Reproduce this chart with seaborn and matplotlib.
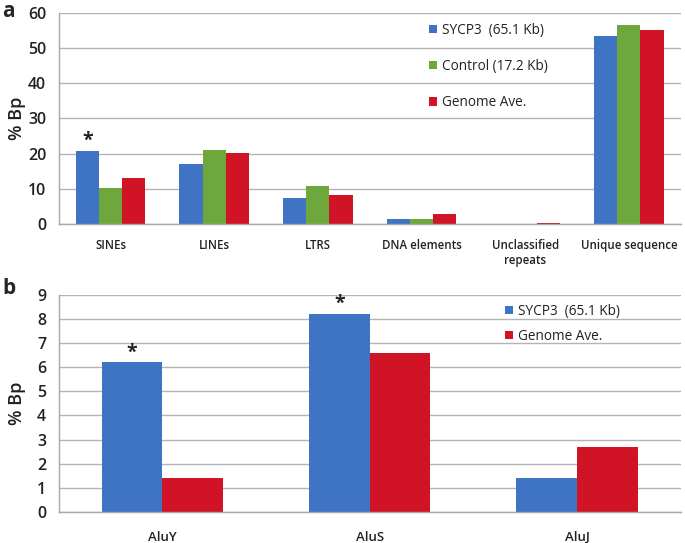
import matplotlib
matplotlib.use("Agg")
import matplotlib.pyplot as plt
import seaborn as sns
import pandas as pd
import numpy as np

cats_a = ["SINEs", "LINEs", "LTRS", "DNA elements", "Unclassified\nrepeats", "Unique sequence"]
sycp3_a = [20.8, 17.0, 7.3, 1.3, 0.0, 53.3]
control_a = [10.3, 21.0, 10.8, 1.3, 0.0, 56.5]
genome_a = [13.0, 20.3, 8.2, 2.8, 0.2, 55.0]

cats_b = ["AluY", "AluS", "AluJ"]
sycp3_b = [6.2, 8.2, 1.4]
genome_b = [1.4, 6.6, 2.7]

series_a = ["SYCP3  (65.1 Kb)", "Control (17.2 Kb)", "Genome Ave."]
series_b = ["SYCP3  (65.1 Kb)", "Genome Ave."]
colors = {"SYCP3  (65.1 Kb)": "#3f74c4", "Control (17.2 Kb)": "#6ea83c", "Genome Ave.": "#d01426"}

sns.set_theme(style="white")
plt.rcParams['font.family'] = ['Open Sans', 'DejaVu Sans']

df_a = pd.DataFrame({
    "cat": cats_a * 3,
    "series": [series_a[0]] * 6 + [series_a[1]] * 6 + [series_a[2]] * 6,
    "val": sycp3_a + control_a + genome_a,
})
df_b = pd.DataFrame({
    "cat": cats_b * 2,
    "series": [series_b[0]] * 3 + [series_b[1]] * 3,
    "val": sycp3_b + genome_b,
})

fig = plt.figure(figsize=(6.85, 5.43), dpi=100)
ax1 = fig.add_axes([0.0857, 0.5875, 0.908, 0.389])
ax2 = fig.add_axes([0.0857, 0.0576, 0.908, 0.399])

sns.barplot(data=df_a, x="cat", y="val", hue="series", palette=colors, width=0.67,
            ax=ax1, edgecolor="none", saturation=1)
sns.barplot(data=df_b, x="cat", y="val", hue="series", palette=colors, width=0.585,
            ax=ax2, edgecolor="none", saturation=1)

def style(ax, ymax, step, ncat, xfs, xpad):
    ax.set_ylim(0, ymax)
    ax.set_xlim(-0.5, ncat - 0.5)
    ax.set_yticks(np.arange(0, ymax + 0.01, step))
    ax.yaxis.grid(True, color="#b4b4b4", linewidth=1.0)
    ax.set_axisbelow(True)
    for s in ["top", "right"]:
        ax.spines[s].set_visible(False)
    for s in ["left", "bottom"]:
        ax.spines[s].set_color("#a8a8a8")
        ax.spines[s].set_linewidth(1.0)
    ax.tick_params(axis="y", length=5, color="#a8a8a8", labelsize=11.5, pad=4,
                   labelcolor="#222222")
    ax.tick_params(axis="x", which="major", length=0, labelsize=xfs, pad=xpad,
                   labelcolor="#222222")
    ax.set_xticks(np.arange(-0.5, ncat, 1.0), minor=True)
    ax.tick_params(axis="x", which="minor", length=4, color="#a8a8a8")
    ax.set_xlabel("")
    ax.set_ylabel("% Bp", fontsize=13, fontweight="semibold", color="#222222")
    ax.yaxis.set_label_coords(-0.052, 0.5)
    for lab in ax.get_yticklabels():
        lab.set_fontweight("semibold")
    for lab in ax.get_xticklabels():
        lab.set_fontweight("semibold")

style(ax1, 60, 10, len(cats_a), 8.3, 11)
style(ax2, 9, 1, len(cats_b), 9.5, 14)

# legends
leg_kw = dict(loc="center left", frameon=False, fontsize=9.8, handlelength=0.55,
              handleheight=0.55, handletextpad=0.35, borderpad=0, borderaxespad=0)
h1, l1 = ax1.get_legend_handles_labels()
ax1.legend(h1, l1, bbox_to_anchor=(0.596, 0.745), labelspacing=1.55, **leg_kw)
h2, l2 = ax2.get_legend_handles_labels()
ax2.legend(h2, l2, bbox_to_anchor=(0.718, 0.866), labelspacing=0.75, **leg_kw)
for lg in (ax1.get_legend(), ax2.get_legend()):
    for t in lg.get_texts():
        t.set_color("#222222")
        t.set_fontweight("medium")

# asterisks on SYCP3 bars
def star(ax, idx):
    p = ax.containers[0][idx]
    ax.text(p.get_x() + p.get_width() / 2, p.get_height(), "*", ha="center", va="bottom",
            fontsize=14, fontweight="bold", color="#222222")

star(ax1, 0)
star(ax2, 0)
star(ax2, 1)

fig.text(0.003, 0.998, "a", fontsize=15, fontweight="bold", va="top")
fig.text(0.003, 0.488, "b", fontsize=15, fontweight="bold", va="top")

fig.savefig("out.png", dpi=100)
